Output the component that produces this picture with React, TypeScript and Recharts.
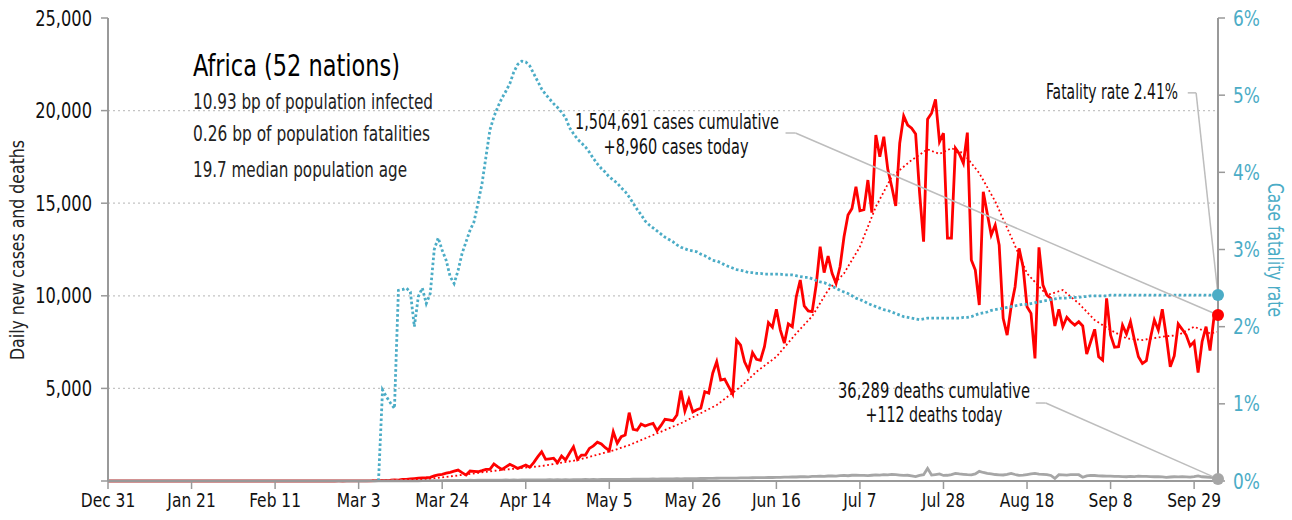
import React from "react";
import {
  ComposedChart,
  Line,
  XAxis,
  YAxis,
  ReferenceLine,
  ReferenceDot,
} from "recharts";

const FONT = "'Liberation Sans Narrow', 'DejaVu Sans Condensed', 'Roboto Condensed', sans-serif";
const RED = "#ff0000";
const BLUE = "#4bacc6";
const GRAY = "#a6a6a6";
const AXIS = "#999999";
const LEADER = "#bdbdbd";

// x axis: day index since Dec 31
const tickDays = [0, 21, 42, 63, 84, 105, 126, 147, 168, 189, 210, 231, 252, 273];
const tickLabels = ["Dec 31", "Jan 21", "Feb 11", "Mar 3", "Mar 24", "Apr 14", "May 5", "May 26", "Jun 16", "Jul 7", "Jul 28", "Aug 18", "Sep 8", "Sep 29"];
const caseTicks = [0, 5000, 10000, 15000, 20000, 25000];
const gridLevels = [5000, 10000, 15000, 20000];
const rateTicks = [0, 1, 2, 3, 4, 5, 6];

// daily new cases, Dec 31 .. Oct 5
const cases = [
  0, 0, 0, 0, 0, 0, 0, 0, 0, 0,
  0, 0, 0, 0, 0, 0, 0, 0, 0, 0,
  0, 0, 0, 0, 0, 0, 0, 0, 0, 0,
  0, 0, 0, 0, 0, 0, 0, 0, 0, 0,
  0, 0, 0, 0, 0, 1, 0, 0, 0, 0,
  0, 0, 0, 0, 0, 1, 1, 0, 2, 1,
  3, 4, 2, 6, 5, 8, 12, 15, 20, 28,
  35, 40, 55, 45, 80, 90, 110, 130, 150, 165,
  180, 200, 280, 330, 360, 420, 470, 530, 590, 450,
  320, 540, 520, 500, 560, 630, 630, 920, 760, 630,
  760, 900, 790, 680, 770, 860, 740, 990, 1300, 1580,
  1170, 1200, 1230, 990, 1350, 1130, 1500, 1850, 1170, 1400,
  1400, 1760, 1900, 2100, 2000, 1800, 1640, 2660, 2035, 2390,
  2480, 3690, 2790, 2740, 3080, 2970, 3050, 3115, 2720, 3000,
  3330, 3300, 3260, 3560, 4880, 3780, 4410, 3730, 3850, 3930,
  4820, 4740, 5820, 6440, 5450, 5500, 5100, 4700, 7610, 7340,
  6440, 5990, 6930, 6570, 6520, 7250, 8550, 8300, 9270, 8150,
  7440, 8480, 8330, 9950, 10850, 9450, 9180, 9140, 10580, 12650,
  11250, 12150, 11210, 10670, 11570, 13190, 14360, 14720, 15890, 14590,
  14650, 16250, 14490, 18680, 17510, 18590, 16830, 15890, 14850, 18240,
  19710, 19220, 19050, 18740, 15540, 12920, 19530, 19860, 20610, 18320,
  18780, 13110, 13110, 17970, 17660, 17160, 18810, 11930, 11390, 9500,
  15620, 14450, 13280, 13820, 12740, 8780, 7880, 9410, 10490, 12560,
  11570, 9410, 9050, 6620, 12620, 10580, 10040, 9860, 8370, 9270,
  8330, 8840, 8600, 8420, 8600, 8370, 6860, 7520, 8190, 6710,
  6530, 9860, 7880, 7220, 7250, 8420, 7940, 8600, 7610, 6710,
  6350, 6500, 7700, 8690, 8150, 9270, 7830, 6170, 6750, 8480,
  8190, 7880, 7290, 7520, 5850, 7520, 8330, 7040, 8870, 8960,
];

// daily new deaths
const deaths = [
  0, 0, 0, 0, 0, 0, 0, 0, 0, 0,
  0, 0, 0, 0, 0, 0, 0, 0, 0, 0,
  0, 0, 0, 0, 0, 0, 0, 0, 0, 0,
  0, 0, 0, 0, 0, 0, 0, 0, 0, 0,
  0, 0, 0, 0, 0, 0, 0, 0, 0, 0,
  0, 0, 0, 0, 0, 0, 0, 0, 0, 0,
  0, 0, 1, 0, 1, 1, 2, 1, 2, 3,
  3, 4, 5, 6, 5, 8, 9, 12, 14, 15,
  18, 20, 22, 25, 24, 28, 30, 32, 35, 30,
  38, 40, 36, 42, 45, 40, 48, 44, 52, 50,
  55, 48, 58, 52, 60, 62, 55, 58, 65, 60,
  62, 68, 58, 70, 66, 72, 64, 75, 70, 78,
  80, 74, 82, 78, 85, 80, 88, 84, 90, 86,
  92, 88, 95, 100, 96, 105, 98, 110, 104, 112,
  108, 118, 115, 122, 120, 128, 124, 132, 130, 138,
  135, 142, 140, 148, 152, 150, 158, 160, 155, 165,
  170, 168, 175, 180, 178, 185, 190, 188, 195, 200,
  210, 205, 220, 215, 230, 240, 225, 245, 250, 260,
  255, 270, 280, 265, 290, 300, 285, 310, 320, 305,
  300, 290, 310, 330, 320, 345, 335, 360, 340, 320,
  300, 310, 280, 240, 300, 340, 680, 320, 350, 380,
  300, 310, 350, 410, 380, 360, 340, 330, 380, 520,
  460, 410, 380, 350, 330, 324, 360, 410, 350, 300,
  320, 350, 380, 410, 370, 360, 340, 300, 140, 340,
  330, 320, 340, 345, 340, 200, 280, 300, 297, 280,
  270, 260, 265, 250, 255, 240, 230, 250, 240, 260,
  255, 250, 240, 230, 235, 220, 200, 215, 230, 225,
  230, 220, 210, 240, 280, 230, 215, 200, 180, 112,
];

// case fatality rate, percent (no value before the first death)
const fatalityRate = [
  null, null, null, null, null, null, null, null, null, null,
  null, null, null, null, null, null, null, null, null, null,
  null, null, null, null, null, null, null, null, null, null,
  null, null, null, null, null, null, null, null, null, null,
  null, null, null, null, null, null, null, null, null, null,
  null, null, null, null, null, null, null, null, null, null,
  null, null, null, null, null, null, null, null, 0, 1.18,
  1.09, 1.01, 0.94, 2.47, 2.48, 2.5, 2.45, 2.0, 2.39, 2.5,
  2.3, 2.43, 3.0, 3.15, 2.99, 2.86, 2.65, 2.56, 2.73, 2.95,
  3.1, 3.25, 3.36, 3.6, 3.85, 4.2, 4.55, 4.72, 4.85, 4.96,
  5.05, 5.15, 5.3, 5.4, 5.44, 5.43, 5.38, 5.28, 5.18, 5.08,
  5.01, 4.95, 4.89, 4.84, 4.78, 4.71, 4.58, 4.5, 4.43, 4.38,
  4.33, 4.26, 4.18, 4.11, 4.05, 4.0, 3.94, 3.9, 3.86, 3.8,
  3.75, 3.68, 3.6, 3.52, 3.45, 3.37, 3.32, 3.28, 3.24, 3.2,
  3.16, 3.13, 3.1, 3.06, 3.03, 3.01, 2.99, 2.98, 2.97, 2.94,
  2.92, 2.89, 2.86, 2.85, 2.83, 2.8, 2.78, 2.76, 2.74, 2.73,
  2.72, 2.7, 2.7, 2.69, 2.69, 2.68, 2.68, 2.68, 2.68, 2.68,
  2.67, 2.67, 2.67, 2.66, 2.65, 2.64, 2.64, 2.62, 2.6, 2.58,
  2.57, 2.55, 2.52, 2.5, 2.47, 2.45, 2.43, 2.4, 2.37, 2.35,
  2.33, 2.3, 2.28, 2.26, 2.24, 2.22, 2.21, 2.19, 2.17, 2.15,
  2.13, 2.12, 2.11, 2.1, 2.09, 2.1, 2.11, 2.11, 2.11, 2.11,
  2.11, 2.11, 2.11, 2.11, 2.11, 2.12, 2.12, 2.13, 2.15, 2.17,
  2.18, 2.19, 2.21, 2.22, 2.23, 2.24, 2.25, 2.26, 2.27, 2.28,
  2.29, 2.29, 2.3, 2.31, 2.32, 2.33, 2.34, 2.35, 2.36, 2.37,
  2.37, 2.37, 2.38, 2.38, 2.38, 2.39, 2.39, 2.4, 2.4, 2.4,
  2.4, 2.4, 2.41, 2.41, 2.41, 2.41, 2.41, 2.41, 2.41, 2.41,
  2.41, 2.41, 2.41, 2.41, 2.41, 2.41, 2.41, 2.41, 2.41, 2.41,
  2.41, 2.41, 2.41, 2.41, 2.41, 2.41, 2.41, 2.41, 2.41, 2.41,
];

// smoothed cases trend, read at a handful of days
const trendDays = [0, 60, 70, 76, 82, 88, 97, 109, 118, 127, 131, 136, 144, 153, 159, 163, 168, 173, 177, 181, 185, 189, 193, 197, 202, 206, 209, 212, 215, 219, 223, 227, 231, 236, 240, 244, 248, 252, 256, 260, 265, 269, 273, 277, 279];
const trendValues = [0, 0, 20, 70, 150, 300, 550, 810, 1130, 1650, 1940, 2390, 3115, 4100, 5090, 5900, 6710, 7970, 8900, 10310, 11210, 12650, 14810, 16430, 17330, 17910, 17660, 17970, 17700, 16620, 15100, 13190, 11210, 10040, 10310, 9590, 8690, 8150, 7700, 7610, 7790, 7880, 8330, 7970, 8060];

const trendByDay = new Map(trendDays.map((d, i) => [d, trendValues[i]]));

const data = cases.map((c, i) => ({
  day: i,
  cases: c,
  deaths: deaths[i],
  rate: fatalityRate[i],
  trend: trendByDay.has(i) ? trendByDay.get(i) : null,
}));

const last = data.length - 1;
const lastCases = cases[last];
const lastDeaths = deaths[last];
const lastRate = fatalityRate[last] as number;

const fmt = (v: number) => (v === 0 ? "" : v.toLocaleString("en-US"));

// tick text squeezed horizontally, to look like the original condensed face
const NarrowTick = (props: any) => {
  const { x, y, payload, textAnchor, fill, fontSize, squeeze, dy, format } = props;
  const label = format(payload.value);
  if (!label) return <g />;
  return (
    <text
      transform={`translate(${x} ${y}) scale(${squeeze} 1)`}
      dy={dy}
      textAnchor={textAnchor}
      fill={fill}
      fontSize={fontSize}
      fontFamily={FONT}
    >
      {label}
    </text>
  );
};

export default function App() {
  return (
    <div style={{ position: "absolute", left: 0, top: 0, width: 1292, height: 520, background: "#fff", fontFamily: FONT }}>
      <ComposedChart width={1292} height={520} data={data} margin={{ top: 18, right: 0, bottom: 0, left: 0 }}>
        {gridLevels.map((g) => (
          <ReferenceLine key={g} yAxisId="left" y={g} stroke="#c4c4c4" strokeDasharray="2 3" strokeWidth={1.2} />
        ))}
        <XAxis
          dataKey="day"
          type="number"
          domain={[0, last]}
          ticks={tickDays}
          height={39}
          axisLine={{ stroke: AXIS, strokeWidth: 2 }}
          tickLine={{ stroke: AXIS, strokeWidth: 1.5 }}
          tickSize={8}
          tickMargin={3}
          tick={(p: any) => (
            <NarrowTick {...p} dy="0.75em" fill="#111" fontSize={20} squeeze={0.86}
              format={(d: number) => tickLabels[tickDays.indexOf(d)]} />
          )}
          interval={0}
        />
        <YAxis
          yAxisId="left"
          width={108}
          domain={[0, 25000]}
          ticks={caseTicks}
          axisLine={{ stroke: AXIS, strokeWidth: 2 }}
          tickLine={{ stroke: AXIS, strokeWidth: 1.5 }}
          tickSize={7}
          tickMargin={9}
          tick={(p: any) => (
            <NarrowTick {...p} dy="0.36em" fill="#111" fontSize={21} squeeze={0.86} format={fmt} />
          )}
          interval={0}
        />
        <YAxis
          yAxisId="right"
          orientation="right"
          width={74}
          domain={[0, 6]}
          ticks={rateTicks}
          axisLine={{ stroke: AXIS, strokeWidth: 2 }}
          tickLine={{ stroke: AXIS, strokeWidth: 1.5 }}
          tickSize={7}
          tickMargin={8}
          tick={(p: any) => (
            <NarrowTick {...p} dy="0.36em" fill={BLUE} fontSize={21} squeeze={0.9}
              format={(v: number) => `${v}%`} />
          )}
          interval={0}
        />
        <Line yAxisId="left" dataKey="cases" stroke={RED} strokeWidth={2.8} dot={false} activeDot={false} isAnimationActive={false} />
        <Line yAxisId="left" dataKey="deaths" stroke={GRAY} strokeWidth={2.8} dot={false} activeDot={false} isAnimationActive={false} />
        <Line yAxisId="left" dataKey="trend" stroke={RED} strokeWidth={1.8} strokeDasharray="1.8 2.6" connectNulls dot={false} activeDot={false} isAnimationActive={false} />
        <Line yAxisId="right" dataKey="rate" stroke={BLUE} strokeWidth={2.8} strokeDasharray="2.6 2.4" dot={false} activeDot={false} isAnimationActive={false} />

        <ReferenceLine yAxisId="left" segment={[{ x: 170.3, y: 18790 }, { x: 172.8, y: 18790 }]} stroke={LEADER} strokeWidth={1.5} />
        <ReferenceLine yAxisId="left" segment={[{ x: 172.8, y: 18790 }, { x: last, y: lastCases }]} stroke={LEADER} strokeWidth={1.5} />
        <ReferenceLine yAxisId="left" segment={[{ x: 233.2, y: 4210 }, { x: 235.7, y: 4210 }]} stroke={LEADER} strokeWidth={1.5} />
        <ReferenceLine yAxisId="left" segment={[{ x: 235.7, y: 4210 }, { x: last, y: lastDeaths }]} stroke={LEADER} strokeWidth={1.5} />
        <ReferenceLine yAxisId="right" segment={[{ x: 271.4, y: 5.03 }, { x: 273.5, y: 5.03 }]} stroke={LEADER} strokeWidth={1.5} />
        <ReferenceLine yAxisId="right" segment={[{ x: 273.5, y: 5.03 }, { x: last, y: lastRate }]} stroke={LEADER} strokeWidth={1.5} />

        <ReferenceDot yAxisId="left" x={last} y={lastDeaths} r={6} fill={GRAY} stroke="none" />
        <ReferenceDot yAxisId="left" x={last} y={lastCases} r={6} fill={RED} stroke="none" />
        <ReferenceDot yAxisId="right" x={last} y={lastRate} r={6} fill={BLUE} stroke="none" />
      </ComposedChart>

      <svg width={1292} height={520} style={{ position: "absolute", left: 0, top: 0, pointerEvents: "none" }} fontFamily={FONT}>
        <text x={193} y={76} fontSize={31} fill="#000" textLength={207} lengthAdjust="spacingAndGlyphs">Africa (52 nations)</text>
        <text x={193} y={109} fontSize={21} fill="#222" textLength={240} lengthAdjust="spacingAndGlyphs">10.93 bp of population infected</text>
        <text x={193} y={141} fontSize={21} fill="#222" textLength={237} lengthAdjust="spacingAndGlyphs">0.26 bp of population fatalities</text>
        <text x={193} y={177} fontSize={21} fill="#222" textLength={214} lengthAdjust="spacingAndGlyphs">19.7 median population age</text>

        <text x={677} y={129} fontSize={21} fill="#111" textAnchor="middle" textLength={204} lengthAdjust="spacingAndGlyphs">1,504,691 cases cumulative</text>
        <text x={676} y={154} fontSize={21} fill="#111" textAnchor="middle" textLength={145} lengthAdjust="spacingAndGlyphs">+8,960 cases today</text>

        <text x={934} y={398} fontSize={21} fill="#111" textAnchor="middle" textLength={192} lengthAdjust="spacingAndGlyphs">36,289 deaths cumulative</text>
        <text x={934} y={422} fontSize={21} fill="#111" textAnchor="middle" textLength={137} lengthAdjust="spacingAndGlyphs">+112 deaths today</text>

        <text x={1178} y={99} fontSize={21} fill="#111" textAnchor="end" textLength={132} lengthAdjust="spacingAndGlyphs">Fatality rate 2.41%</text>

        <text x={0} y={0} fontSize={20} fill="#222" textAnchor="middle" transform="translate(24 250) rotate(-90)" textLength={220} lengthAdjust="spacingAndGlyphs">Daily new cases and deaths</text>
        <text x={0} y={0} fontSize={21} fill={BLUE} textAnchor="middle" transform="translate(1268 250) rotate(90)" textLength={134} lengthAdjust="spacingAndGlyphs">Case fatality rate</text>
      </svg>
    </div>
  );
}
